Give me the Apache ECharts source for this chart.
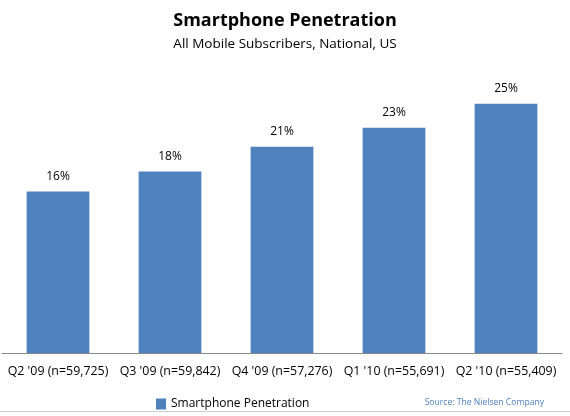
<!DOCTYPE html>
<html>
<head>
<meta charset="utf-8">
<script src="https://cdn.jsdelivr.net/npm/echarts@6/dist/echarts.min.js"></script>
<style>
html, body { margin: 0; padding: 0; background: #fff; }
#container { width: 570px; height: 416px; }
</style>
</head>
<body>
<div id="container"></div>
<script>
var categories = ["Q2 '09 (n=59,725)", "Q3 '09 (n=59,842)", "Q4 '09 (n=57,276)", "Q1 '10 (n=55,691)", "Q2 '10 (n=55,409)"];
// bar heights; labels show them rounded
var penetration = [16.2, 18.2, 20.7, 22.6, 25];
var seriesName = 'Smartphone Penetration';

var font = 'Open Sans';

var option = {
    animation: false,
    backgroundColor: '#fff',
    title: [{
        text: 'Smartphone Penetration',
        subtext: 'All Mobile Subscribers, National, US',
        left: 'center',
        top: 7,
        itemGap: 7,
        textStyle: { fontFamily: font, fontSize: 18, fontWeight: 'bold', color: '#000' },
        subtextStyle: { fontFamily: font, fontSize: 13.5, color: '#000' }
    }, {
        text: 'Source: The Nielsen Company',
        right: 21,
        top: 393,
        textStyle: { fontFamily: font, fontSize: 8.6, fontWeight: 'normal', color: '#4f81bd' }
    }],
    legend: {
        data: [seriesName],
        left: 151,
        top: 393,
        icon: 'rect',
        itemWidth: 10,
        itemHeight: 11,
        itemGap: 4,
        textStyle: { fontFamily: font, fontSize: 12, color: '#000' }
    },
    graphic: [{
        type: 'line',
        shape: { x1: 0, y1: 411.5, x2: 570, y2: 411.5 },
        style: { stroke: '#cccccc', lineWidth: 1 }
    }],
    grid: { left: 2, right: 8, top: 54, bottom: 63 },
    xAxis: {
        type: 'category',
        data: categories,
        axisLine: { lineStyle: { color: '#888', width: 1 } },
        axisTick: { show: false },
        axisLabel: { fontFamily: font, fontSize: 12.4, color: '#000', margin: 12, interval: 0 }
    },
    yAxis: {
        type: 'value',
        min: 0,
        max: 30,
        show: false,
        splitLine: { show: false }
    },
    series: [{
        name: seriesName,
        type: 'bar',
        data: penetration,
        barCategoryGap: '44%',
        itemStyle: { color: '#4f81bd' },
        label: {
            show: true,
            position: 'top',
            distance: 9,
            formatter: function (p) { return Math.round(p.value) + '%'; },
            fontFamily: font,
            fontSize: 12,
            color: '#000'
        }
    }]
};

var myChart = echarts.init(document.getElementById('container'));
myChart.setOption(option);
</script>
</body>
</html>
